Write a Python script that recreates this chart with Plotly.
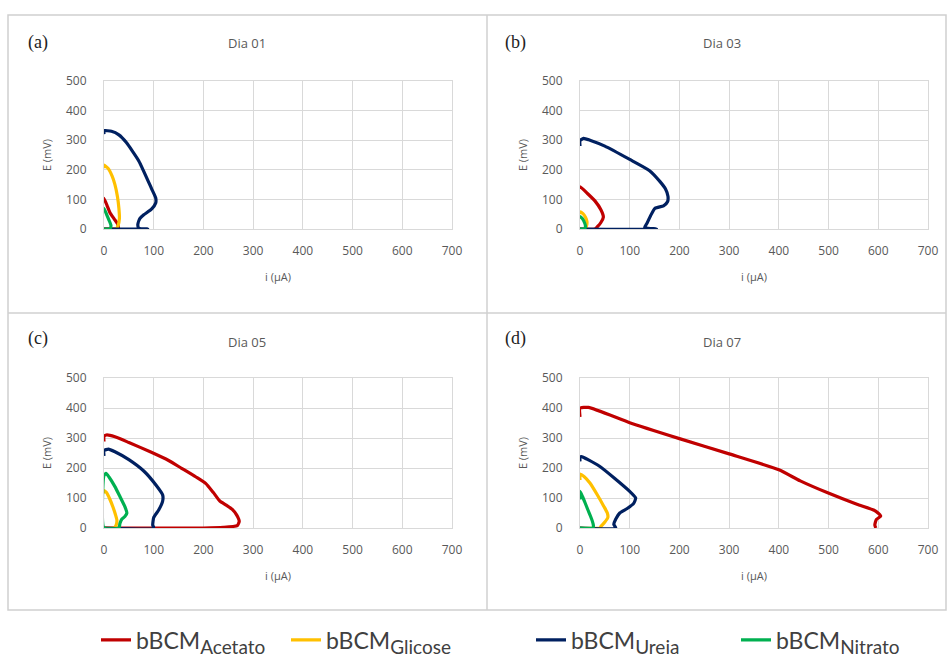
import plotly.graph_objects as go

W, H = 949, 659

series_base = "bBCM"
series_subs = ["Acetato", "Glicose", "Ureia", "Nitrato"]
series_colors = ["#C00000", "#FFC000", "#002060", "#00B050"]
panel_titles = ["Dia 01", "Dia 03", "Dia 05", "Dia 07"]
panel_labels = ["(a)", "(b)", "(c)", "(d)"]
x_ticks = [0, 100, 200, 300, 400, 500, 600, 700]
y_ticks = [0, 100, 200, 300, 400, 500]

# ---- Dia 01 ----
d01_acetato_i = [0, 0, 6, 12, 20, 27, 29, 25, 0]
d01_acetato_E = [90, 104, 80, 55, 35, 18, 5, 0, 0]
d01_glicose_i = [0, 0, 8, 16, 22, 27, 30, 31, 28, 24, 0]
d01_glicose_E = [205, 216, 205, 180, 150, 110, 70, 35, 10, 0, 0]
d01_ureia_i = [0, 0, 15, 30, 45, 70, 96, 104, 104, 96, 80, 72, 68, 70, 88, 0]
d01_ureia_E = [320, 332, 330, 318, 292, 230, 135, 105, 88, 68, 48, 35, 15, 3, 0, 0]
d01_nitrato_i = [0, 0, 5, 10, 14, 12, 0]
d01_nitrato_E = [60, 70, 50, 30, 12, 0, 0]

# ---- Dia 03 ----
d03_acetato_i = [0, 0, 15, 30, 42, 47, 42, 35, 30, 0]
d03_acetato_E = [135, 143, 120, 95, 65, 40, 22, 8, 0, 0]
d03_glicose_i = [0, 0, 6, 11, 14, 13, 10, 0]
d03_glicose_E = [50, 58, 52, 40, 25, 10, 0, 0]
d03_ureia_i = [0, 0, 7, 20, 50, 100, 140, 161, 172, 177, 176, 168, 151, 142, 135, 130, 154, 0]
d03_ureia_E = [280, 298, 306, 300, 280, 235, 197, 160, 135, 110, 92, 78, 70, 45, 20, 5, 0, 0]
d03_nitrato_i = [0, 0, 5, 9, 11, 9, 0]
d03_nitrato_E = [35, 42, 35, 22, 10, 0, 0]

# ---- Dia 05 ----
d05_acetato_i = [0, 0, 5, 22, 50, 93, 130, 156, 185, 205, 220, 233, 246, 258, 267, 272, 268, 240, 200, 0]
d05_acetato_E = [288, 305, 310, 304, 285, 254, 225, 199, 170, 148, 118, 90, 76, 62, 43, 22, 8, 2, 0, 0]
d05_glicose_i = [0, 0, 5, 12, 18, 23, 26, 24, 20, 0]
d05_glicose_E = [115, 125, 118, 95, 70, 45, 25, 8, 0, 0]
d05_ureia_i = [0, 0, 9, 22, 50, 80, 106, 118, 118, 110, 100, 98, 100, 0]
d05_ureia_E = [240, 258, 263, 254, 228, 190, 140, 110, 90, 60, 35, 10, 0, 0]
d05_nitrato_i = [0, 0, 4, 10, 22, 32, 42, 46, 42, 36, 32, 30, 0]
d05_nitrato_E = [0, 175, 182, 170, 138, 105, 71, 50, 38, 30, 15, 0, 0]

# ---- Dia 07 ----
d07_acetato_i = [0, 0, 17, 100, 200, 300, 400, 443, 497, 557, 593, 605, 596, 593, 595]
d07_acetato_E = [370, 399, 402, 351, 298, 247, 194, 157, 118, 79, 58, 40, 28, 10, 0]
d07_glicose_i = [0, 0, 8, 20, 35, 48, 55, 56, 50, 42, 40, 0]
d07_glicose_E = [160, 180, 172, 150, 110, 72, 50, 35, 20, 5, 0, 0]
d07_ureia_i = [0, 0, 3, 17, 40, 70, 100, 112, 108, 95, 80, 72, 68, 72, 0]
d07_ureia_E = [222, 235, 238, 227, 205, 165, 122, 100, 82, 65, 50, 30, 12, 0, 0]
d07_nitrato_i = [0, 0, 5, 10, 16, 21, 25, 27, 26, 0]
d07_nitrato_E = [95, 122, 105, 85, 60, 40, 22, 8, 0, 0]

panels = [
    [(d01_acetato_i, d01_acetato_E), (d01_glicose_i, d01_glicose_E),
     (d01_ureia_i, d01_ureia_E), (d01_nitrato_i, d01_nitrato_E)],
    [(d03_acetato_i, d03_acetato_E), (d03_glicose_i, d03_glicose_E),
     (d03_ureia_i, d03_ureia_E), (d03_nitrato_i, d03_nitrato_E)],
    [(d05_acetato_i, d05_acetato_E), (d05_glicose_i, d05_glicose_E),
     (d05_ureia_i, d05_ureia_E), (d05_nitrato_i, d05_nitrato_E)],
    [(d07_acetato_i, d07_acetato_E), (d07_glicose_i, d07_glicose_E),
     (d07_ureia_i, d07_ureia_E), (d07_nitrato_i, d07_nitrato_E)],
]

# layout geometry (pixels)
px_x = [(104, 452), (580, 928), (104, 452), (580, 928)]
px_y = [(81, 229), (81, 229), (378, 528), (378, 528)]
title_pos = [(247, 43), (722, 43), (247, 342), (722, 342)]
label_pos = [(38, 42), (515, 42), (38, 338), (515, 338)]
legend_x = [96, 286, 531, 736]

GRID = "#d9d9d9"
TXT = "#595959"
AXFONT = "Open Sans"

fig = go.Figure()
layout = dict(
    width=W, height=H,
    margin=dict(l=0, r=0, t=0, b=0, autoexpand=False),
    paper_bgcolor="white", plot_bgcolor="white",
    showlegend=True,
)
legend_keys = ["legend", "legend2", "legend3", "legend4"]
for s in range(4):
    layout[legend_keys[s]] = dict(
        orientation="h", x=legend_x[s] / W, xanchor="left",
        y=1 - 640 / H, yanchor="middle",
        font=dict(family="Lato", size=23, color="#404040"),
        itemwidth=30, bgcolor="rgba(0,0,0,0)")

annotations = []
shapes = []

for p, series in enumerate(panels):
    xa = "x" if p == 0 else f"x{p+1}"
    ya = "y" if p == 0 else f"y{p+1}"
    xkey = "xaxis" if p == 0 else f"xaxis{p+1}"
    ykey = "yaxis" if p == 0 else f"yaxis{p+1}"
    for s, (xi, ye) in enumerate(series):
        name = f"{series_base}<sub><span style='font-size:19px'>{series_subs[s]}</span></sub>"
        fig.add_trace(go.Scatter(
            x=xi, y=ye, mode="lines", name=name,
            line=dict(color=series_colors[s], width=3.2, shape="spline", smoothing=0.5),
            xaxis=xa, yaxis=ya, showlegend=(p == 0), legendgroup=str(s),
            legend=legend_keys[s],
            cliponaxis=False, hoverinfo="skip"))
    x0, x1 = px_x[p]
    y0, y1 = px_y[p]
    layout[xkey] = dict(
        domain=[x0 / W, x1 / W], range=[0, 700], anchor=ya,
        tickvals=x_ticks, ticktext=[str(v) for v in x_ticks],
        showgrid=True, gridcolor=GRID, gridwidth=1,
        zeroline=False, showline=True, linecolor=GRID, mirror=True,
        tickfont=dict(family=AXFONT, size=12, color=TXT),
        ticks="", ticklabelstandoff=11, automargin=False,
        title=dict(text="i (μA)", font=dict(family=AXFONT, size=11, color=TXT), standoff=14),
        fixedrange=True)
    layout[ykey] = dict(
        domain=[1 - y1 / H, 1 - y0 / H], range=[0, 500], anchor=xa,
        tickvals=y_ticks, ticktext=[str(v) for v in y_ticks],
        showgrid=True, gridcolor=GRID, gridwidth=1,
        zeroline=False, showline=True, linecolor=GRID, mirror=True,
        tickfont=dict(family=AXFONT, size=12, color=TXT),
        ticks="", ticklabelstandoff=14, automargin=False,
        title=dict(text="E (mV)", font=dict(family=AXFONT, size=11, color=TXT), standoff=12),
        fixedrange=True)
    tx, ty = title_pos[p]
    annotations.append(dict(text=panel_titles[p], x=tx / W, y=1 - ty / H,
                            xref="paper", yref="paper", showarrow=False,
                            xanchor="center", yanchor="middle",
                            font=dict(family=AXFONT, size=13, color=TXT)))
    lx, ly = label_pos[p]
    annotations.append(dict(text=panel_labels[p], x=lx / W, y=1 - ly / H,
                            xref="paper", yref="paper", showarrow=False,
                            xanchor="center", yanchor="middle",
                            font=dict(family="Liberation Serif", size=18, color="#222222")))

# panel frames
FR = "#d0d0d0"
shapes.append(dict(type="rect", xref="paper", yref="paper",
                   x0=8 / W, x1=946 / W, y0=1 - 610 / H, y1=1 - 15 / H,
                   line=dict(color=FR, width=1.5), layer="below"))
shapes.append(dict(type="line", xref="paper", yref="paper",
                   x0=487 / W, x1=487 / W, y0=1 - 610 / H, y1=1 - 15 / H,
                   line=dict(color=FR, width=1.5), layer="below"))
shapes.append(dict(type="line", xref="paper", yref="paper",
                   x0=8 / W, x1=946 / W, y0=1 - 313 / H, y1=1 - 313 / H,
                   line=dict(color=FR, width=1.5), layer="below"))

layout["annotations"] = annotations
layout["shapes"] = shapes
fig.update_layout(**layout)
fig.write_html("out.html")
